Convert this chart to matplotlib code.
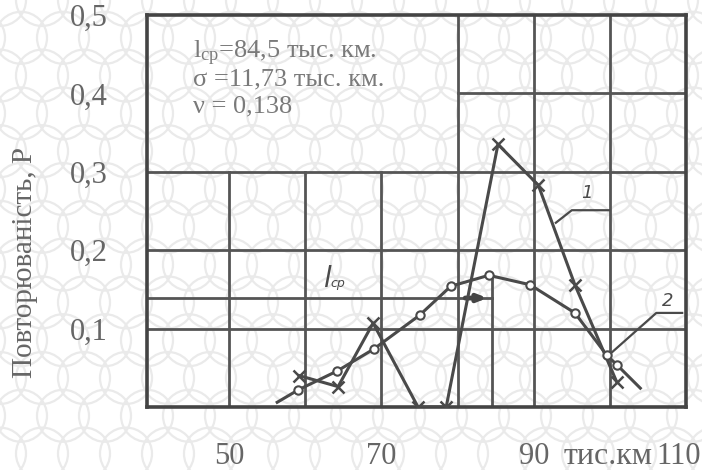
import numpy as np
import matplotlib
matplotlib.use("Agg")
import matplotlib.pyplot as plt
from matplotlib.patches import Circle
from matplotlib.transforms import ScaledTranslation

plt.rcParams['font.family'] = ['Liberation Serif', 'DejaVu Serif']
plt.rcParams['mathtext.fontset'] = 'custom'
plt.rcParams['mathtext.rm'] = 'Liberation Serif'
plt.rcParams['mathtext.it'] = 'Liberation Serif:italic'

# ---- data ----
# curve 1 (crosses)
x1 = [59.2, 64.3, 68.9, 74.8, 78.5, 85.3, 90.6, 95.4, 100.9]
p1 = [0.040, 0.026, 0.107, 0.0, 0.0, 0.335, 0.283, 0.156, 0.032]
# curve 2 (circles); first and last points are line ends without marker
x2 = [56.3, 59.1, 64.2, 69.0, 75.0, 79.1, 84.1, 89.5, 95.4, 99.6, 100.9, 104.0]
p2 = [0.006, 0.022, 0.046, 0.074, 0.117, 0.154, 0.168, 0.156, 0.120, 0.066, 0.054, 0.024]

l_mean = 84.5
sigma = 11.73
nu = 0.138
p_mean_line = 0.139

x_ticks = [50, 70, 90, 110]
x_ticklabels = ['50', '70', '90', '110']
y_ticks = [0.1, 0.2, 0.3, 0.4, 0.5]
y_ticklabels = ['0,1', '0,2', '0,3', '0,4', '0,5']

# drawn grid of the original figure
vgrid_low = [50, 60, 70]      # up to 0.3
vgrid_high = [80, 90, 100]    # up to 0.5
hgrid_full = [0.1, 0.2, 0.3]
hgrid_right = [0.4]           # from 80 to 110

W, H = 702, 470
fig = plt.figure(figsize=(W / 100, H / 100), dpi=100)

# background texture
bg = fig.add_axes([0, 0, 1, 1], zorder=0)
bg.set_xlim(0, W)
bg.set_ylim(H, 0)
bg.axis('off')
step = 42
for i in range(-1, W // step + 2):
    for j in range(-1, H // step + 2):
        cx = i * step + (step / 2 if j % 2 else 0)
        cy = j * step * 0.9
        bg.add_patch(Circle((cx, cy), 26, fill=False, ec='#eaeaea', lw=1.6))

ax = fig.add_axes([147 / W, 1 - 407 / H, (686 - 147) / W, (407 - 15) / H], zorder=1)
ax.set_facecolor('none')
xmin, xmax = 39.2, 110.0
ax.set_xlim(xmin, xmax)
ax.set_ylim(0, 0.5)

gc = '#555555'
for v in vgrid_low:
    ax.plot([v, v], [0, 0.3], color=gc, lw=2.0, zorder=1)
for v in vgrid_high:
    ax.plot([v, v], [0, 0.5], color=gc, lw=2.0, zorder=1)
for h in hgrid_full:
    ax.plot([xmin, xmax], [h, h], color=gc, lw=2.0, zorder=1)
for h in hgrid_right:
    ax.plot([80, xmax], [h, h], color=gc, lw=2.0, zorder=1)

# mean line markers
ax.plot([xmin, l_mean], [p_mean_line, p_mean_line], color=gc, lw=2.0, zorder=1)
ax.plot([l_mean, l_mean], [0, max(p2)], color=gc, lw=2.0, zorder=1)
ax.annotate('', xy=(l_mean - 0.6, p_mean_line), xytext=(81.0, p_mean_line),
            arrowprops=dict(arrowstyle='-|>,head_length=0.5,head_width=0.2', lw=3.5,
                            color='#444444', shrinkA=0, shrinkB=0), zorder=3)

lc = '#4a4a4a'
ax.plot(x1, p1, color=lc, lw=2.2, marker='x', ms=9, mew=1.8, zorder=4)
ax.plot(x2, p2, color=lc, lw=2.2, zorder=4)
ax.plot(x2[1:-1], p2[1:-1], ls='none', marker='o', ms=6, mfc='white', mec=lc, mew=1.5, zorder=5)

# leader lines with curve numbers
ax.plot([92.9, 95.0, 99.9], [0.235, 0.251, 0.251], color=lc, lw=1.6, zorder=4)
ax.text(97.0, 0.262, '1', fontsize=13, style='italic', color=lc, ha='center', va='bottom',
        family='DejaVu Sans')
ax.plot([100.3, 106.1, 109.5], [0.070, 0.120, 0.120], color=lc, lw=1.6, zorder=4)
ax.text(107.6, 0.124, '2', fontsize=13, style='italic', color=lc, ha='center', va='bottom',
        family='DejaVu Sans')

# hand-written l_cp label
ax.text(62.3, 0.153, 'l', fontsize=20, color=lc, style='italic', family='DejaVu Sans',
        va='baseline')
ax.text(63.3, 0.153, 'ср', fontsize=9, color=lc, style='italic', family='DejaVu Sans',
        va='baseline')

for s in ax.spines.values():
    s.set_linewidth(2.6)
    s.set_color('#444444')

tc = '#666666'
ax.set_xticks(x_ticks)
ax.set_xticklabels(x_ticklabels)
ax.set_yticks(y_ticks)
ax.set_yticklabels(y_ticklabels)
ax.tick_params(axis='both', length=0, labelsize=22, labelcolor=tc)
ax.tick_params(axis='x', pad=25)
ax.tick_params(axis='y', pad=28)
last = ax.get_xticklabels()[-1]
last.set_transform(last.get_transform() + ScaledTranslation(-7 / 100, 0, fig.dpi_scale_trans))

fig.text(608 / W, 1 - 457 / H, 'тис.км', fontsize=23, color=tc, ha='center', va='center')

fig.text(25 / W, 1 - 263 / H, 'Повторюваність, Р', fontsize=21, color=tc,
         rotation=90, ha='center', va='center')

bc = '#7a7a7a'
fig.text(193 / W, 1 - 58 / H, r'l$_{\mathrm{ср}}$=84,5 тыс. км.', fontsize=19, color=bc,
         va='baseline')
fig.text(193 / W, 1 - 85 / H, 'σ =11,73 тыс. км.', fontsize=19, color=bc, va='baseline')
fig.text(193 / W, 1 - 112 / H, 'ν = 0,138', fontsize=19, color=bc, va='baseline')

fig.savefig('out.png', dpi=100)
